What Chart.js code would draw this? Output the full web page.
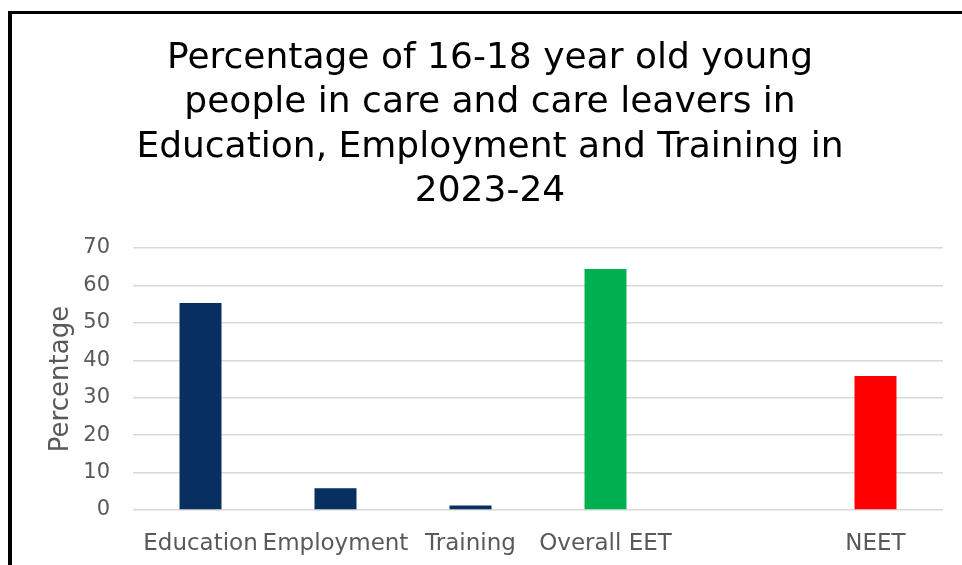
<!DOCTYPE html>
<html>
<head>
<meta charset="utf-8">
<script src="https://cdn.jsdelivr.net/npm/chart.js@4.4.1/dist/chart.umd.min.js"></script>
<style>
  html, body { margin: 0; padding: 0; background: #fff; }
  #wrap { position: relative; width: 962px; height: 565px; overflow: hidden; }
  #frame {
    position: absolute; left: 8px; top: 11px; width: 1000px; height: 700px;
    border-left: 4px solid #000; border-top: 3px solid #000; box-sizing: border-box;
  }
  canvas { position: absolute; left: 0; top: 0; }
</style>
</head>
<body>
<div id="wrap">
  <div id="frame"></div>
  <canvas id="c" width="962" height="565"></canvas>
</div>
<script>
// Young people aged 16-18 in care and care leavers, 2023-24
const categories = ['Education', 'Employment', 'Training', 'Overall EET', '', 'NEET'];
const percentages = [55.3, 5.8, 1.2, 64.4, null, 35.8];
const yTicks = [0, 10, 20, 30, 40, 50, 60, 70];
const titleLines = [
  'Percentage of 16-18 year old young',
  'people in care and care leavers in',
  'Education, Employment and Training in',
  '2023-24'
];

const NAVY = '#072f5f', GREEN = '#00b050', RED = '#ff0000';
const barColours = [NAVY, NAVY, NAVY, GREEN, GREEN, RED];
const FONT = "'DejaVu Sans', sans-serif";
const GREY = '#595959';

new Chart(document.getElementById('c'), {
  type: 'bar',
  data: {
    labels: categories,
    datasets: [{
      data: percentages,
      backgroundColor: barColours,
      borderWidth: 0,
      categoryPercentage: 1,
      barPercentage: 0.311
    }]
  },
  options: {
    responsive: false,
    animation: false,
    layout: { padding: { left: 37, right: 19, top: 0, bottom: 0 } },
    plugins: {
      legend: { display: false },
      tooltip: { enabled: false },
      title: {
        display: true,
        text: titleLines,
        color: '#000',
        font: { family: FONT, size: 36, weight: 'normal', lineHeight: '44.5px' },
        padding: { top: 36, bottom: 34 }
      }
    },
    scales: {
      x: {
        grid: { display: false },
        border: { display: false },
        ticks: {
          color: GREY,
          font: { family: FONT, size: 23 },
          padding: 12,
          maxRotation: 0,
          autoSkip: false
        },
        afterFit: s => { s.height = 55; }
      },
      y: {
        min: 0,
        max: 70,
        afterBuildTicks: s => { s.ticks = yTicks.map(v => ({ value: v })); },
        grid: { color: '#d9d9d9', lineWidth: 1.5, drawTicks: false },
        border: { display: false },
        ticks: {
          color: GREY,
          font: { family: FONT, size: 21 },
          padding: 23
        },
        title: {
          display: true,
          text: 'Percentage',
          color: GREY,
          font: { family: FONT, size: 26 },
          padding: { top: 9, bottom: 0 }
        },
        afterFit: s => { s.width = 96; }
      }
    }
  }
});
</script>
</body>
</html>
